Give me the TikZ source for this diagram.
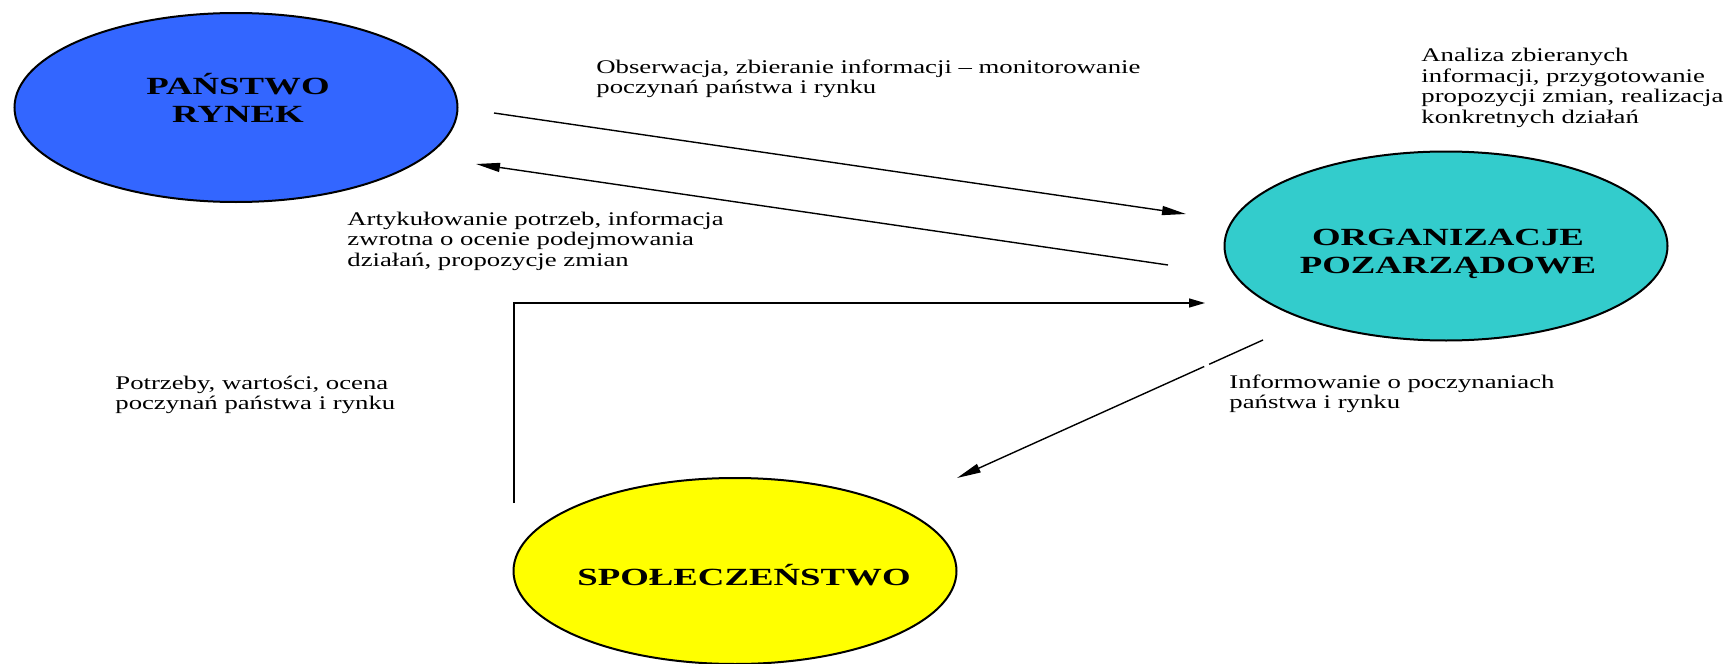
\documentclass[tikz,border=0pt]{standalone}
\usepackage{fontspec}
\setmainfont{Liberation Serif}
\newfontfamily\lblfont[FakeStretch=1.385]{Liberation Serif}
\newfontfamily\bigfont[FakeStretch=1.49]{Liberation Serif}
\usetikzlibrary{shapes.geometric,arrows.meta}
\definecolor{stateblue}{RGB}{51,102,255}
\definecolor{ngoteal}{RGB}{51,204,204}
\definecolor{socyellow}{RGB}{255,255,0}
\tikzset{
  blob/.style={ellipse, draw=black, line width=1pt, inner sep=0pt,
    minimum width=221.5pt, minimum height=94.5pt},
  bigtxt/.style={inner sep=0pt, anchor=base, font=\bigfont\bfseries\fontsize{12.35}{14}\selectfont},
  lbl/.style={inner sep=0pt, anchor=base west, font=\lblfont\fontsize{9.65}{10.25}\selectfont},
  conn/.style={line width=0.7pt, draw=black},
  longarr/.style={conn, -{Triangle[length=12pt,width=4.5pt]}},
  shortarr/.style={conn, -{Triangle[length=8pt,width=4.5pt]}}
}
\begin{document}
\begin{tikzpicture}[x=0.5pt,y=-0.5pt]
\useasboundingbox (0,0) rectangle (1726,664);
% ellipses
\node[blob, fill=stateblue] (state) at (236,107.5) {};
\node[blob, fill=ngoteal] (ngo) at (1446,246) {};
\node[blob, fill=socyellow, minimum height=93pt] (soc) at (735,571) {};
% ellipse texts
\node[bigtxt] (stateT) at (238,94.3) {\begin{tabular}[t]{@{}c@{}}PAŃSTWO\\RYNEK\end{tabular}};
\node[bigtxt] (ngoT) at (1448,245) {\begin{tabular}[t]{@{}c@{}}ORGANIZACJE\\POZARZĄDOWE\end{tabular}};
\node[bigtxt] (socT) at (744,585) {SPOŁECZEŃSTWO};
% labels
\node[lbl] (l1) at (596,73.3) {\begin{tabular}[t]{@{}l@{}}Obserwacja, zbieranie informacji – monitorowanie\\poczynań państwa i rynku\end{tabular}};
\node[lbl] (l2) at (1421,61.7) {\begin{tabular}[t]{@{}l@{}}Analiza zbieranych\\informacji, przygotowanie\\propozycji zmian, realizacja\\konkretnych działań\end{tabular}};
\node[lbl] (l3) at (347,225) {\begin{tabular}[t]{@{}l@{}}Artykułowanie potrzeb, informacja\\zwrotna o ocenie podejmowania\\działań, propozycje zmian\end{tabular}};
\node[lbl] (l4) at (115,389) {\begin{tabular}[t]{@{}l@{}}Potrzeby, wartości, ocena\\poczynań państwa i rynku\end{tabular}};
\node[lbl] (l5) at (1229,388.3) {\begin{tabular}[t]{@{}l@{}}Informowanie o poczynaniach\\państwa i rynku\end{tabular}};
% connector end points
\coordinate (a1s) at (494,113);
\coordinate (a1e) at (1186,214);
\coordinate (a2s) at (1168,265);
\coordinate (a2e) at (476,164);
\coordinate (a3s) at (514,503);
\coordinate (a3e) at (1205,303);
\coordinate (a4s) at (1263,340);
\coordinate (a4e) at (957,478);
% connectors
\draw[longarr] (a1s) -- (a1e);
\draw[longarr] (a2s) -- (a2e);
\draw[shortarr] (a3s) |- (a3e);
\draw[longarr, dash pattern=on 29.5pt off 2.75pt on 300pt] (a4s) -- (a4e);
\end{tikzpicture}
\end{document}
